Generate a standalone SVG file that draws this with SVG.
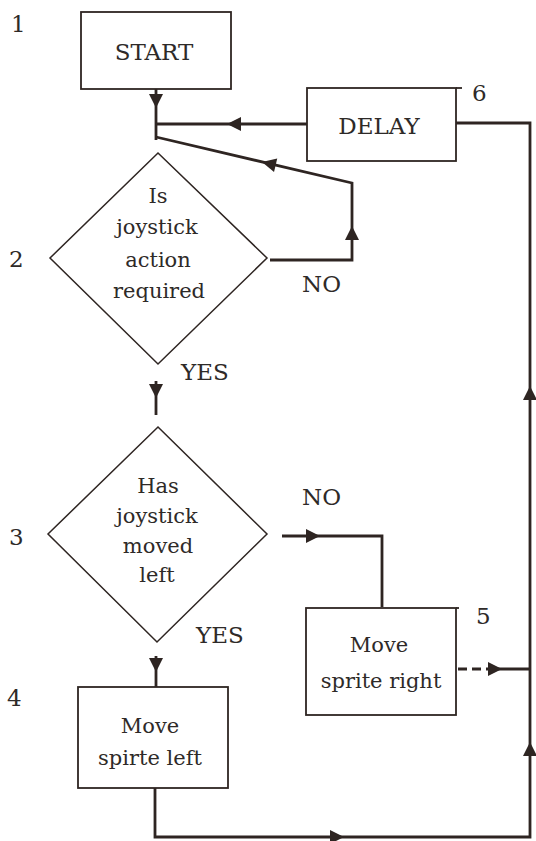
<svg xmlns="http://www.w3.org/2000/svg" xmlns:xlink="http://www.w3.org/1999/xlink" width="536" height="841" viewBox="0 0 536 841">
<style>
.box{fill:none;stroke:#2e2522;stroke-width:1.8}
.dia{fill:none;stroke:#2e2522;stroke-width:1.5}
.con{fill:none;stroke:#2e2522;stroke-width:2.8;stroke-linejoin:miter}
.dash{fill:none;stroke:#2e2522;stroke-width:2.8;stroke-dasharray:9,5}
.t{font-family:"DejaVu Serif","Liberation Serif",serif;font-size:21px;fill:#2e2a28;text-anchor:middle}
.big{font-size:23px}
.lbl{font-family:"DejaVu Serif","Liberation Serif",serif;font-size:23px;fill:#2e2a28}
.num{font-family:"DejaVu Serif","Liberation Serif",serif;font-size:23px;fill:#2e2a28}
</style>
<defs>
<path id="ah" d="M0,0 L-14,-7 L-14,7 Z" fill="#2e2522"/>
</defs>
<rect width="536" height="841" fill="#ffffff"/>

<g id="connectors">
<!-- START to junction -->
<path class="con" d="M156,89 V140"/>
<use xlink:href="#ah" transform="translate(156,108) rotate(90)"/>
<!-- DELAY to junction -->
<path class="con" d="M307,124 H156"/>
<use xlink:href="#ah" transform="translate(227,124) rotate(180)"/>
<!-- Decision 1 NO loop back -->
<path class="con" d="M270,260 H352 V183 L156,137"/>
<use xlink:href="#ah" transform="translate(352,226) rotate(-90)"/>
<use xlink:href="#ah" transform="translate(262,162) rotate(193.2)"/>
<!-- Decision 1 YES -->
<path class="con" d="M156,381 V415"/>
<use xlink:href="#ah" transform="translate(156,398) rotate(90)"/>
<!-- Decision 2 NO -->
<path class="con" d="M282,536 H382 V607"/>
<use xlink:href="#ah" transform="translate(320,536)"/>
<!-- Decision 2 YES -->
<path class="con" d="M156,656 V687"/>
<use xlink:href="#ah" transform="translate(156,672) rotate(90)"/>
<!-- Move sprite right to return line -->
<path class="dash" d="M458,669 H487"/>
<path class="con" d="M487,669 H530"/>
<use xlink:href="#ah" transform="translate(502,669)"/>
<!-- Move sprite left return loop to DELAY -->
<path class="con" d="M155,788 V837 H530 V123 H456"/>
<use xlink:href="#ah" transform="translate(344,837)"/>
<use xlink:href="#ah" transform="translate(530,742) rotate(-90)"/>
<use xlink:href="#ah" transform="translate(530,386) rotate(-90)"/>
</g>

<g id="node1">
<rect class="box" x="81" y="12" width="150" height="77"/>
<text class="t big" x="154" y="60">START</text>
<text class="num" x="11" y="32">1</text>
</g>

<g id="node6">
<rect class="box" x="307" y="88" width="149" height="73"/>
<path class="box" d="M456,88 H462"/>
<text class="t big" x="379" y="134">DELAY</text>
<text class="num" x="472" y="101">6</text>
</g>

<g id="node2">
<polygon class="dia" points="158,153 267,258 158,364 50,258"/>
<text class="t" x="158" y="203">Is</text>
<text class="t" x="157" y="234">joystick</text>
<text class="t" x="158" y="267">action</text>
<text class="t" x="159" y="298">required</text>
<text class="num" x="9" y="267">2</text>
<text class="lbl" x="302" y="292">NO</text>
<text class="lbl" x="181" y="380">YES</text>
</g>

<g id="node3">
<polygon class="dia" points="158,427 267,534 157,642 48,534"/>
<text class="t" x="158" y="493">Has</text>
<text class="t" x="157" y="523">joystick</text>
<text class="t" x="158" y="553">moved</text>
<text class="t" x="157" y="582">left</text>
<text class="num" x="9" y="545">3</text>
<text class="lbl" x="302" y="505">NO</text>
<text class="lbl" x="196" y="643">YES</text>
</g>

<g id="node5">
<rect class="box" x="306" y="608" width="150" height="107"/>
<path class="box" d="M456,608 H459"/>
<text class="t" x="379" y="652">Move</text>
<text class="t" x="381" y="688">sprite right</text>
<text class="num" x="476" y="624">5</text>
</g>

<g id="node4">
<rect class="box" x="78" y="687" width="150" height="101"/>
<text class="t" x="150" y="733">Move</text>
<text class="t" x="150" y="765">spirte left</text>
<text class="num" x="7" y="706">4</text>
</g>
</svg>
